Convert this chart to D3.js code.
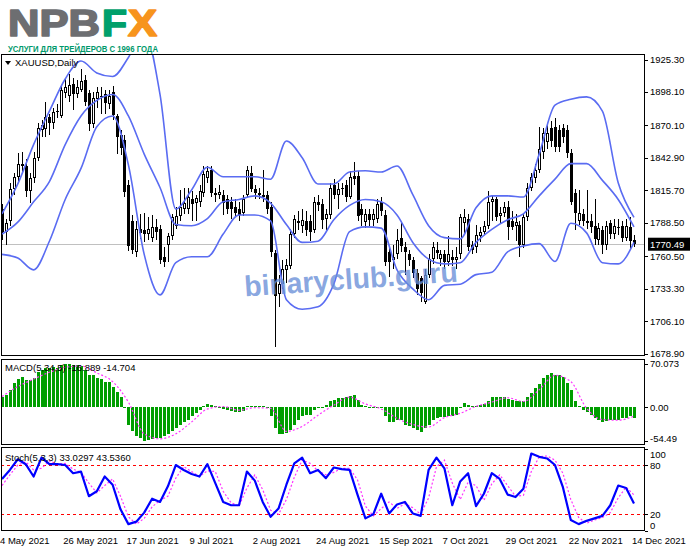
<!DOCTYPE html>
<html>
<head>
<meta charset="utf-8">
<script src="https://cdn.jsdelivr.net/npm/d3@7"></script>
<style>
  body { margin: 0; background: #fff; }
  svg { display: block; }
  text { font-family: "Liberation Sans", Arial, sans-serif; }
</style>
</head>
<body>
<svg id="chart" width="691" height="549"></svg>
<script>
// XAUUSD daily, 4 May 2021 .. 14 Dec 2021 (161 bars)
var opens  = [1800,1781,1790,1817,1827,1838,1836,1815,1826,1843,1866,1867,1877,1872,1881,1878,1897,1895,1905,1896,1900,1908,1897,1871,1892,1895,1896,1888,1898,1878,1862,1858,1820,1790,1764,1783,1782,1779,1776,1785,1783,1760,1770,1777,1786,1794,1800,1800,1808,1805,1806,1813,1826,1833,1813,1812,1812,1808,1806,1802,1800,1797,1812,1830,1817,1813,1812,1812,1802,1763,1729,1737,1749,1752,1779,1790,1786,1790,1790,1782,1806,1804,1792,1795,1820,1812,1817,1820,1810,1828,1828,1800,1789,1796,1791,1792,1806,1795,1764,1757,1762,1776,1768,1762,1757,1746,1742,1722,1745,1758,1766,1758,1762,1756,1760,1757,1762,1788,1792,1770,1768,1777,1781,1786,1806,1808,1794,1797,1802,1790,1786,1787,1770,1793,1818,1826,1833,1848,1856,1868,1869,1866,1868,1866,1847,1813,1790,1796,1790,1790,1786,1774,1782,1770,1788,1779,1784,1786,1776,1785,1774];
var highs  = [1804,1792,1822,1830,1847,1848,1842,1830,1848,1872,1875,1890,1880,1885,1888,1903,1910,1913,1910,1908,1917,1912,1900,1898,1902,1902,1900,1900,1903,1880,1866,1862,1824,1795,1790,1796,1797,1793,1795,1792,1787,1768,1780,1796,1802,1816,1818,1818,1815,1812,1820,1836,1836,1836,1818,1820,1816,1812,1810,1808,1806,1812,1836,1836,1820,1818,1833,1815,1806,1766,1745,1757,1758,1783,1795,1798,1800,1798,1795,1810,1812,1808,1800,1822,1825,1822,1822,1824,1832,1839,1832,1804,1800,1800,1800,1808,1810,1799,1768,1770,1783,1789,1772,1766,1760,1750,1744,1750,1762,1772,1772,1766,1766,1777,1766,1768,1796,1800,1796,1773,1787,1785,1790,1815,1812,1810,1802,1806,1807,1798,1796,1790,1796,1822,1830,1838,1869,1868,1870,1874,1876,1870,1871,1870,1850,1817,1816,1800,1816,1796,1808,1788,1786,1790,1791,1792,1792,1790,1792,1793,1778];
var lows   = [1774,1770,1786,1812,1822,1830,1810,1805,1822,1840,1860,1860,1862,1867,1876,1876,1893,1890,1883,1893,1898,1886,1865,1868,1885,1880,1880,1884,1875,1846,1845,1810,1765,1762,1760,1775,1772,1774,1772,1774,1754,1751,1756,1774,1783,1790,1796,1796,1790,1790,1802,1810,1822,1810,1806,1808,1795,1796,1792,1793,1790,1794,1810,1814,1808,1808,1806,1796,1760,1684,1718,1733,1738,1750,1776,1782,1780,1777,1773,1780,1798,1783,1782,1792,1808,1800,1812,1806,1808,1820,1790,1786,1784,1786,1786,1788,1794,1752,1743,1750,1758,1764,1745,1752,1742,1728,1722,1720,1742,1754,1758,1752,1750,1752,1752,1750,1758,1780,1765,1762,1763,1772,1778,1783,1790,1790,1788,1793,1774,1782,1773,1760,1767,1790,1815,1822,1830,1842,1850,1852,1848,1848,1855,1843,1803,1782,1787,1786,1783,1780,1770,1770,1762,1766,1775,1775,1778,1772,1773,1766,1768];
var closes = [1781,1788,1817,1827,1838,1836,1815,1826,1843,1868,1870,1877,1872,1881,1882,1900,1902,1904,1896,1902,1907,1890,1871,1893,1898,1894,1889,1895,1879,1860,1851,1814,1769,1766,1783,1780,1779,1783,1785,1781,1757,1756,1777,1793,1794,1802,1805,1810,1804,1809,1815,1829,1832,1813,1812,1814,1805,1800,1800,1797,1795,1808,1833,1817,1813,1812,1810,1800,1764,1727,1737,1750,1753,1779,1792,1788,1791,1782,1781,1806,1803,1791,1796,1818,1812,1817,1818,1810,1827,1825,1794,1795,1796,1791,1796,1804,1798,1756,1756,1760,1774,1769,1764,1757,1746,1733,1730,1745,1758,1768,1763,1762,1756,1762,1757,1760,1793,1793,1768,1766,1778,1781,1786,1806,1808,1793,1797,1802,1785,1785,1789,1770,1793,1818,1827,1833,1850,1864,1864,1857,1852,1852,1860,1847,1806,1797,1797,1790,1788,1785,1775,1784,1770,1786,1779,1786,1785,1776,1786,1773,1770.49];
var lastPrice = 1770.49;

// Bollinger bands, read every 4th bar
var bandStep = 4;
var bbUpper  = [1796,1821,1854,1882,1909,1924,1914,1911,1927,1950,1896,1800,1816,1835,1827,1827,1827,1825,1857,1843,1821,1821,1831,1832,1831,1836,1812,1786,1776,1775,1801,1811,1811,1810,1846,1887,1892,1894,1882,1822,1793];
var bbMiddle = [1779,1789,1806,1823,1854,1878,1891,1896,1878,1846,1818,1787,1786,1792,1806,1808,1811,1805,1787,1772,1773,1791,1803,1808,1806,1795,1772,1758,1754,1755,1772,1783,1791,1796,1811,1825,1838,1838,1824,1808,1785];
var bbLower  = [1762,1759,1749,1773,1808,1834,1869,1878,1837,1762,1728,1755,1760,1760,1779,1795,1795,1790,1724,1716,1718,1737,1781,1785,1784,1749,1733,1724,1736,1737,1745,1747,1764,1769,1771,1756,1788,1780,1755,1754,1772];

// MACD(5,34,5): main per bar, signal every 4th bar
var macdMain = [17,20,28,38,45,49,44,44,47,57,59,63,63,65,63,67,69,70.073,68,68,66,60,52,51,47,45,41,41,33,25,17,-2,-28,-39,-47,-50,-54.49,-53,-51,-50,-49,-47,-44,-39,-34,-28,-24,-20,-15,-9,-5,1,5,3,1,-1,-3,-5,-6,-8,-8,-6,1,2,2,1,1,-2,-15,-34,-44,-44,-41,-37,-28,-21,-15,-13,-12,-5,-2,-1,4,9,11,14,14,17,18,19,12,4,1,-2,-2,-1,-2,-15,-24,-24,-21,-21,-29,-31,-33,-37,-40,-34,-28,-21,-18,-16,-16,-15,-15,-12,-2,7,3,1,1,3,5,9,16,17,17,16,13,12,10,9,10,16,23,30,37,47,52,55,52,51,48,39,28,9,1,-5,-8,-12,-18,-21,-24,-23,-21,-21,-20,-18,-18,-15,-16.889];
var macdStep = 4;
var macdSignal = [17,33,45,56,64,66,55,41,8,-43,-51,-43,-24,-3,1,-5,-1,-2,-39,-31,-13,3,16,5,-3,-18,-28,-32,-17,-10,1,8,15,9,28,51,41,-2,-20,-21,-14.704];

// Stochastic(5,3,3), read every 2nd bar
var stochStep = 2;
var stochMain = [63,74,87,81,66,89,81,81,80,70,72,42,48,66,56,26,8,11,22,39,35,54,80,74,69,66,81,58,35,31,31,72,61,35,17,27,56,82,89,70,74,64,77,75,74,44,15,20,45,21,32,35,21,18,74,89,76,31,60,70,30,45,70,63,44,41,51,94,90,88,80,53,13,8,12,15,18,31,55,52,33.0297];
var stochSignal = [55,68,80,84,74,76,85,81,82,75,71,58,46,55,63,42,17,8,15,29,37,42,64,78,72,66,73,72,48,34,30,52,68,50,25,20,38,65,86,82,73,68,71,76,76,62,30,18,27,35,27,33,28,20,40,78,86,58,38,59,55,37,57,68,55,42,43,72,90,91,86,70,38,16,9,13,16,22,40,53,43.536];
var stochLevels = [80, 20];

// axis labels
var priceTicks = [1925.30,1898.10,1870.10,1842.90,1815.70,1788.50,1760.50,1733.30,1706.10,1678.90];
var dateLabels = ['4 May 2021','26 May 2021','17 Jun 2021','9 Jul 2021','2 Aug 2021','24 Aug 2021','15 Sep 2021','7 Oct 2021','29 Oct 2021','22 Nov 2021','14 Dec 2021'];
var dateEvery = 16;

var svg = d3.select('#chart');
var L = 1, R = 645;
var pMain = {top: 54, bottom: 355.5};
var pMacd = {top: 358.5, bottom: 444.5};
var pSto  = {top: 446.5, bottom: 531};

var x  = d3.scaleLinear().domain([0, 160]).range([2, 634]);
var y  = d3.scaleLinear().domain([1678.9, 1925.3]).range([353.5, 59.5]);
var ym = d3.scaleLinear().domain([-54.49, 70.073]).range([441, 363.5]);
var ys = d3.scaleLinear().domain([0, 100]).range([530.7, 448.6]);

var bandColor = '#5a6cf2';

// ---------- logo ----------
function logoPart(txt, x0, w, col){
  svg.append('text').attr('x', x0).attr('y', 36).attr('font-weight', 'bold').attr('font-size', 36)
    .attr('fill', col).attr('stroke', col).attr('stroke-width', 1.6).attr('stroke-linejoin', 'round')
    .attr('textLength', w).attr('lengthAdjust', 'spacingAndGlyphs').text(txt);
}
logoPart('NPB', 8, 92, '#6d6e71');
logoPart('F', 102, 25, '#00a06b');
logoPart('X', 128, 29, '#f7941d');
svg.append('text').attr('x', 8).attr('y', 52).attr('font-weight', 'bold').attr('font-size', 8.8)
  .attr('fill', '#00996b').attr('textLength', 150).attr('lengthAdjust', 'spacingAndGlyphs')
  .text('УСЛУГИ ДЛЯ ТРЕЙДЕРОВ С 1996 ГОДА');

// ---------- clip paths ----------
var defs = svg.append('defs');
[['clipMain', pMain], ['clipMacd', pMacd], ['clipSto', pSto]].forEach(function(c){
  defs.append('clipPath').attr('id', c[0]).append('rect')
    .attr('x', L).attr('y', c[1].top).attr('width', R - L).attr('height', c[1].bottom - c[1].top);
});

// ---------- main panel ----------
var gMain = svg.append('g').attr('clip-path', 'url(#clipMain)');

gMain.append('line').attr('x1', L).attr('x2', R).attr('y1', Math.round(y(lastPrice)) + 0.5).attr('y2', Math.round(y(lastPrice)) + 0.5)
  .attr('stroke', '#c0c0c0').attr('stroke-width', 1);

var idx = d3.range(closes.length);
var candles = gMain.append('g').attr('shape-rendering', 'crispEdges');
candles.selectAll('line.wick').data(idx).enter().append('line').attr('class', 'wick')
  .attr('x1', function(i){ return Math.round(x(i)) + 0.5; })
  .attr('x2', function(i){ return Math.round(x(i)) + 0.5; })
  .attr('y1', function(i){ return y(highs[i]); })
  .attr('y2', function(i){ return y(lows[i]); })
  .attr('stroke', '#000').attr('stroke-width', 1);
candles.selectAll('rect.body').data(idx).enter().append('rect').attr('class', 'body')
  .attr('x', function(i){ return Math.round(x(i)) - 1; })
  .attr('width', 3)
  .attr('y', function(i){ return y(Math.max(opens[i], closes[i])); })
  .attr('height', function(i){ return Math.max(1, Math.abs(y(opens[i]) - y(closes[i]))); })
  .attr('fill', '#000');
candles.selectAll('rect.hollow').data(idx.filter(function(i){ return closes[i] > opens[i] && y(opens[i]) - y(closes[i]) > 2; }))
  .enter().append('rect').attr('class', 'hollow')
  .attr('x', function(i){ return Math.round(x(i)); })
  .attr('width', 1)
  .attr('y', function(i){ return y(closes[i]) + 1; })
  .attr('height', function(i){ return y(opens[i]) - y(closes[i]) - 2; })
  .attr('fill', '#fff');

var bandLine = d3.line()
  .x(function(d, k){ return x(k * bandStep); })
  .y(function(d){ return y(d); })
  .curve(d3.curveMonotoneX);
[bbUpper, bbMiddle, bbLower].forEach(function(s){
  gMain.append('path').attr('d', bandLine(s)).attr('fill', 'none')
    .attr('stroke', bandColor).attr('stroke-width', 1.6);
});

// watermark
svg.append('text').attr('x', 351).attr('y', 289).attr('text-anchor', 'middle')
  .attr('transform', 'rotate(-4,351,280)')
  .attr('font-weight', 'bold').attr('font-size', 29).attr('fill', '#6a8fd8').attr('fill-opacity', 0.8)
  .attr('textLength', 214).attr('lengthAdjust', 'spacingAndGlyphs')
  .text('binaryclub.guru');

// main label
svg.append('path').attr('d', 'M5,61 L11,61 L8,65 Z').attr('fill', '#000');
svg.append('text').attr('x', 15).attr('y', 66).attr('font-size', 9.5).attr('fill', '#000').text('XAUUSD,Daily');

// ---------- MACD panel ----------
var gMacd = svg.append('g').attr('clip-path', 'url(#clipMacd)');
gMacd.append('g').attr('shape-rendering', 'crispEdges').selectAll('rect').data(macdMain).enter().append('rect')
  .attr('x', function(d, i){ return Math.round(x(i)) - 1; })
  .attr('width', 3)
  .attr('y', function(d){ return Math.min(ym(0), ym(d)); })
  .attr('height', function(d){ return Math.max(1, Math.abs(ym(d) - ym(0))); })
  .attr('fill', '#009e00');
gMacd.append('path')
  .attr('d', d3.line().x(function(d, k){ return x(k * macdStep); }).y(function(d){ return ym(d); }).curve(d3.curveMonotoneX)(macdSignal))
  .attr('fill', 'none').attr('stroke', '#ff33ff').attr('stroke-width', 1.2).attr('stroke-dasharray', '2,2');
svg.append('text').attr('x', 5).attr('y', 371).attr('font-size', 9.5).attr('fill', '#000')
  .text('MACD(5,34,5) -16.889 -14.704');

// ---------- Stochastic panel ----------
var gSto = svg.append('g').attr('clip-path', 'url(#clipSto)');
stochLevels.forEach(function(v){
  gSto.append('line').attr('x1', L).attr('x2', R).attr('y1', Math.round(ys(v)) + 0.5).attr('y2', Math.round(ys(v)) + 0.5)
    .attr('stroke', '#ff0000').attr('stroke-width', 1).attr('stroke-dasharray', '3,3');
});
var stoLine = d3.line().x(function(d, k){ return x(k * stochStep); }).y(function(d){ return ys(d); });
gSto.append('path').attr('d', stoLine(stochSignal)).attr('fill', 'none')
  .attr('stroke', '#ff33ff').attr('stroke-width', 1.2).attr('stroke-dasharray', '2,2');
gSto.append('path').attr('d', stoLine(stochMain)).attr('fill', 'none')
  .attr('stroke', '#0000ff').attr('stroke-width', 2.2).attr('stroke-linejoin', 'round');
svg.append('text').attr('x', 5).attr('y', 461).attr('font-size', 9.5).attr('fill', '#000')
  .text('Stoch(5,3,3) 33.0297 43.5360');

// ---------- frames ----------
var frames = svg.append('g').attr('shape-rendering', 'crispEdges').attr('fill', 'none').attr('stroke', '#000');
[pMain, pMacd, pSto].forEach(function(p){
  frames.append('rect').attr('x', L + 0.5).attr('y', p.top + 0.5).attr('width', R - L - 1).attr('height', p.bottom - p.top - 1);
});

// ---------- right axis ----------
var axis = svg.append('g').attr('font-size', 9.5).attr('fill', '#000');
priceTicks.forEach(function(v){
  axis.append('line').attr('x1', R).attr('x2', R + 3).attr('y1', Math.round(y(v)) + 0.5).attr('y2', Math.round(y(v)) + 0.5)
    .attr('stroke', '#000').attr('shape-rendering', 'crispEdges');
  axis.append('text').attr('x', 650).attr('y', y(v) + 3.5).text(v.toFixed(2));
});
axis.append('rect').attr('x', 648).attr('y', y(lastPrice) - 6.5).attr('width', 42).attr('height', 13).attr('fill', '#000');
axis.append('text').attr('x', 650).attr('y', y(lastPrice) + 3.5).attr('fill', '#fff').text(lastPrice.toFixed(2));

[[70.073, '70.073', 3], [0, '0.00', 3.5], [-54.49, '-54.49', 1]].forEach(function(t){
  axis.append('line').attr('x1', R).attr('x2', R + 3).attr('y1', Math.round(ym(t[0])) + 0.5).attr('y2', Math.round(ym(t[0])) + 0.5)
    .attr('stroke', '#000').attr('shape-rendering', 'crispEdges');
  axis.append('text').attr('x', 650).attr('y', ym(t[0]) + t[2]).text(t[1]);
});
[[100, 9.5], [80, 3.5], [20, 3.5], [0, -2]].forEach(function(t){
  axis.append('line').attr('x1', R).attr('x2', R + 3).attr('y1', Math.round(ys(t[0])) + 0.5).attr('y2', Math.round(ys(t[0])) + 0.5)
    .attr('stroke', '#000').attr('shape-rendering', 'crispEdges');
  axis.append('text').attr('x', 650).attr('y', ys(t[0]) + t[1]).text(String(t[0]));
});

// ---------- time axis ----------
dateLabels.forEach(function(s, k){
  svg.append('text').attr('x', x(k * dateEvery) - 2).attr('y', 544).attr('font-size', 9.5).attr('fill', '#000').text(s);
});
</script>
</body>
</html>
